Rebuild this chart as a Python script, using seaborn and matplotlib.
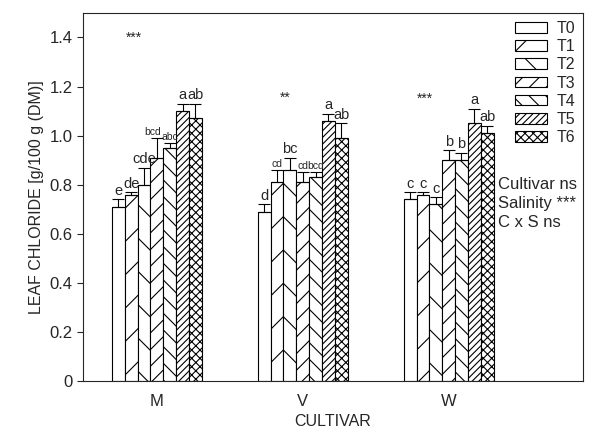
import numpy as np
import pandas as pd
import matplotlib
matplotlib.use("Agg")
import matplotlib.pyplot as plt
import seaborn as sns

cultivars = ["M", "V", "W"]
treatments = ["T0", "T1", "T2", "T3", "T4", "T5", "T6"]

# mean leaf chloride per treatment, one list per cultivar
chloride_m = [0.71, 0.76, 0.80, 0.91, 0.95, 1.10, 1.07]
chloride_v = [0.69, 0.81, 0.86, 0.81, 0.83, 1.06, 0.99]
chloride_w = [0.74, 0.76, 0.72, 0.90, 0.90, 1.05, 1.01]

err_m = [0.03, 0.01, 0.07, 0.08, 0.02, 0.03, 0.06]
err_v = [0.03, 0.05, 0.05, 0.04, 0.02, 0.03, 0.06]
err_w = [0.03, 0.01, 0.03, 0.04, 0.03, 0.06, 0.03]

letters_m = ["e", "de", "cde", "bcd", "abc", "a", "ab"]
letters_v = ["d", "cd", "bc", "cd", "bcd", "a", "ab"]
letters_w = ["c", "c", "c", "b", "b", "a", "ab"]

stars = ["***", "**", "***"]
star_x = [-0.16, -0.12, -0.165]
star_y = [1.40, 1.155, 1.15]

hatches = ["", "/", "\\", "//", "\\\\", "/////", "xxxx"]

rows = []
for cv, vals, errs, lets in zip(cultivars,
                                [chloride_m, chloride_v, chloride_w],
                                [err_m, err_v, err_w],
                                [letters_m, letters_v, letters_w]):
    for t, v, e, l in zip(treatments, vals, errs, lets):
        rows.append({"cultivar": cv, "treatment": t, "chloride": v, "err": e, "letter": l})
df = pd.DataFrame(rows)

sns.set_style("ticks")
plt.rcParams["font.family"] = ["Liberation Sans", "DejaVu Sans"]
plt.rcParams["hatch.linewidth"] = 0.8

fig = plt.figure(figsize=(5.96, 4.32), dpi=100)
ax = fig.add_axes([0.139, 0.118, 0.839, 0.852])

sns.barplot(data=df, x="cultivar", y="chloride", hue="treatment",
            order=cultivars, hue_order=treatments, width=0.616,
            palette=["white"] * len(treatments), edgecolor="black", linewidth=0.8,
            errorbar=None, ax=ax)

# hatch per treatment, error bars (upper half only) and letters
small = {"bcd", "abc", "cd"}
bar_containers = list(ax.containers)
for i, cont in enumerate(bar_containers):
    sub = df[df["treatment"] == treatments[i]]
    xs, tops = [], []
    for patch in cont.patches:
        patch.set_hatch(hatches[i])
        xs.append(patch.get_x() + patch.get_width() / 2)
        tops.append(patch.get_height())
    ax.errorbar(xs, tops, yerr=[np.zeros(len(xs)), sub["err"].values],
                fmt="none", ecolor="black", elinewidth=0.8, capsize=4,
                capthick=0.8, zorder=3)
    for j, (x, top, e, l) in enumerate(zip(xs, tops, sub["err"].values, sub["letter"].values)):
        fs = 7.5 if l in small else 10.5
        dx = -0.03 if (j == 0 and l == "bcd") else 0.0
        ax.text(x + dx, top + e + 0.006, l, ha="center", va="bottom", fontsize=fs)

for k, (s, dx, y) in enumerate(zip(stars, star_x, star_y)):
    ax.text(k + dx, y, s, ha="center", va="center", fontsize=10)

ax.text(2.335, 0.83, "Cultivar ns\nSalinity ***\nC x S ns", ha="left", va="top",
        fontsize=12, linespacing=1.3)

ax.set_ylim(0, 1.5)
ax.set_xlim(-0.507, 2.92)
ax.set_yticks([0, 0.2, 0.4, 0.6, 0.8, 1.0, 1.2, 1.4])
ax.set_yticklabels(["0", "0.2", "0.4", "0.6", "0.8", "1.0", "1.2", "1.4"])
ax.tick_params(axis="y", labelsize=12, direction="out", length=4, width=0.8)
ax.tick_params(axis="x", labelsize=12, length=0, pad=9)
for sp in ax.spines.values():
    sp.set_visible(True)
    sp.set_linewidth(0.8)
ax.set_xlabel("CULTIVAR", fontsize=11.5, labelpad=4)
ax.set_ylabel("LEAF CHLORIDE [g/100 g (DM)]", fontsize=11.5)

handles, labels = ax.get_legend_handles_labels()
for h, hatch in zip(handles, hatches):
    h.set_hatch(hatch)
    h.set_facecolor("white")
    h.set_edgecolor("black")
ax.legend(handles, labels, loc="upper right", frameon=False, fontsize=11.5,
          handlelength=2.0, handleheight=0.65, labelspacing=0.2,
          handletextpad=0.6, borderaxespad=0.1)

fig.savefig("out.png", dpi=100)
